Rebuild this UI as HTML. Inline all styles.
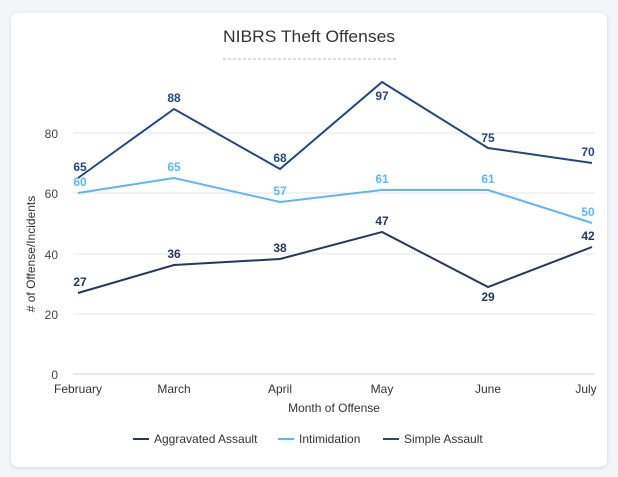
<!DOCTYPE html>
<html><head><style>
body{margin:0;width:618px;height:477px;background:#f4f5f7;font-family:"Liberation Sans",sans-serif;overflow:hidden}
.card{position:absolute;left:11px;top:13px;width:596px;height:454px;background:#fff;border-radius:7px;box-shadow:0 1px 4px rgba(0,0,0,.12)}
</style></head><body>
<div class="card"></div>
<svg width="618" height="477" style="position:absolute;left:0;top:0" font-family="Liberation Sans, sans-serif">
<text x="309" y="42" text-anchor="middle" font-size="17" fill="#333" textLength="172" lengthAdjust="spacingAndGlyphs">NIBRS Theft Offenses</text>
<line x1="223" y1="59" x2="396" y2="59" stroke="#bbb" stroke-dasharray="3,2"/>
<g stroke="#e6e6e6"><line x1="73" y1="133" x2="595" y2="133"/><line x1="73" y1="193" x2="595" y2="193"/><line x1="73" y1="254" x2="595" y2="254"/><line x1="73" y1="314" x2="595" y2="314"/></g>
<line x1="73" y1="374" x2="595" y2="374" stroke="#c5d6ea"/>
<g font-size="12" fill="#444" text-anchor="end"><text x="58" y="138">80</text><text x="58" y="198">60</text><text x="58" y="259">40</text><text x="58" y="319">20</text><text x="58" y="379">0</text></g>
<g font-size="12" fill="#333" text-anchor="middle"><text x="78" y="393">February</text><text x="174" y="393">March</text><text x="280" y="393">April</text><text x="382" y="393">May</text><text x="488" y="393">June</text><text x="586" y="393">July</text></g>
<text x="334" y="412" text-anchor="middle" font-size="12" fill="#333">Month of Offense</text>
<text transform="translate(35,254) rotate(-90)" text-anchor="middle" font-size="12" fill="#333"># of Offense/Incidents</text>
<polyline fill="none" stroke="#26467d" stroke-width="2" points="78,178 174,109 280,169 382,82 488,148 592,163"/>
<polyline fill="none" stroke="#5bb8f5" stroke-width="2" points="78,193 174,178 280,202 382,190 488,190 592,223"/>
<polyline fill="none" stroke="#253858" stroke-width="2" points="78,293 174,265 280,259 382,232 488,287 592,247"/>
<g font-size="12" font-weight="bold" fill="#26467d" text-anchor="middle"><text x="80" y="171">65</text><text x="174" y="102">88</text><text x="280" y="162">68</text><text x="382" y="100">97</text><text x="488" y="142">75</text><text x="588" y="156">70</text></g>
<g font-size="12" font-weight="bold" fill="#5bb8f5" text-anchor="middle"><text x="80" y="186">60</text><text x="174" y="171">65</text><text x="280" y="195">57</text><text x="382" y="183">61</text><text x="488" y="183">61</text><text x="588" y="216">50</text></g>
<g font-size="12" font-weight="bold" fill="#253858" text-anchor="middle"><text x="80" y="286">27</text><text x="174" y="258">36</text><text x="280" y="252">38</text><text x="382" y="225">47</text><text x="488" y="301">29</text><text x="588" y="240">42</text></g>
<g font-size="12" fill="#333">
<line x1="133" y1="439" x2="149" y2="439" stroke="#253858" stroke-width="2"/><text x="154" y="443">Aggravated Assault</text>
<line x1="278" y1="439" x2="294" y2="439" stroke="#5bb8f5" stroke-width="2"/><text x="299" y="443">Intimidation</text>
<line x1="383" y1="439" x2="399" y2="439" stroke="#26467d" stroke-width="2"/><text x="404" y="443">Simple Assault</text>
</g>
</svg>
</body></html>
